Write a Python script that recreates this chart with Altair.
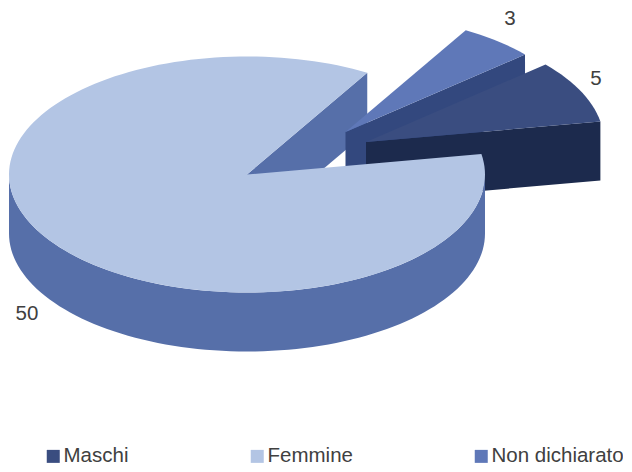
import math
import altair as alt

CATEGORIES = ["Maschi", "Femmine", "Non dichiarato"]
VALUES = [5, 50, 3]
TOP_COLORS = ["#3A4D80", "#B3C5E4", "#5F78B8"]
SIDE_COLORS = ["#1C2A4D", "#566FA9", "#33487E"]

# pie geometry (page pixels minus the 8px margin)
OX, OY = -8, -8
RX, RY, DEPTH = 238, 118, 59
START = 10.0
CENTERS = {"Maschi": (366, 142), "Femmine": (247, 174.5), "Non dichiarato": (345.5, 132)}
LABEL_POS = {"Maschi": (596, 79), "Femmine": (27, 314), "Non dichiarato": (510, 19)}

FONT = 20.5

total = sum(VALUES)
m_sweep, f_sweep, nd_sweep = [v / total * 360 for v in VALUES]
angles = {
    "Maschi": (START, START + m_sweep),
    "Non dichiarato": (START + m_sweep, START + m_sweep + nd_sweep),
    "Femmine": (START + m_sweep + nd_sweep, START + m_sweep + nd_sweep + f_sweep),
}


def pt(cat, t, dy=0):
    cx, cy = CENTERS[cat]
    r = math.radians(t)
    return [cx + RX * math.cos(r) + OX, cy - RY * math.sin(r) + dy + OY]


def apex(cat, dy=0):
    cx, cy = CENTERS[cat]
    return [cx + OX, cy + dy + OY]


def arc(cat, t0, t1, dy=0):
    n = max(2, int(abs(t1 - t0) / 2))
    return [pt(cat, t0 + (t1 - t0) * i / n, dy) for i in range(n + 1)]


def feature(name, ring):
    ring = ring + [ring[0]]
    return {"type": "Feature", "properties": {"name": name},
            "geometry": {"type": "Polygon", "coordinates": [ring]}}


def top(cat):
    t0, t1 = angles[cat]
    return feature(cat, [apex(cat)] + arc(cat, t0, t1))


def cut(cat, t):
    return feature(cat + " lato", [apex(cat), pt(cat, t), pt(cat, t, DEPTH), apex(cat, DEPTH)])


f0, f1 = angles["Femmine"]
features = [
    cut("Femmine", f0),
    cut("Non dichiarato", angles["Non dichiarato"][0]),
    top("Non dichiarato"),
    cut("Maschi", angles["Maschi"][0]),
    top("Maschi"),
    feature("Femmine lato", arc("Femmine", 180, 360) + arc("Femmine", 360, 180, DEPTH)),
    top("Femmine"),
]

domain = CATEGORIES + [c + " lato" for c in CATEGORIES]
colors = TOP_COLORS + SIDE_COLORS
projection = dict(type="identity", scale=1, translate=[0, 0])

shapes = (
    alt.Chart(alt.Data(values=features))
    .mark_geoshape(stroke=None, strokeWidth=0)
    .encode(
        fill=alt.Fill(
            "properties.name:N",
            scale=alt.Scale(domain=domain, range=colors),
            legend=alt.Legend(
                values=CATEGORIES,
                title=None,
                orient="none",
                legendX=35,
                legendY=438,
                direction="horizontal",
                columns=3,
                columnPadding=118,
                symbolType="square",
                symbolSize=169,
                symbolStrokeWidth=0,
                symbolOffset=0,
                labelFont="Liberation Sans",
                labelFontSize=FONT,
                labelColor="#404040",
                labelOffset=0,
            ),
        )
    )
    .project(**projection)
)

label_rows = [
    {"name": c, "value": str(v), "lon": LABEL_POS[c][0] + OX, "lat": LABEL_POS[c][1] + OY}
    for c, v in zip(CATEGORIES, VALUES)
]
labels = (
    alt.Chart(alt.Data(values=label_rows))
    .mark_text(font="Liberation Sans", fontSize=FONT, color="#404040", align="center", baseline="middle")
    .encode(longitude="lon:Q", latitude="lat:Q", text="value:N")
    .project(**projection)
)

chart = (
    alt.layer(shapes, labels)
    .properties(width=615, height=461, padding=0, autosize=alt.AutoSizeParams(type="none"))
    .configure_view(stroke=None)
)
chart.save("out.html", embed_options={"renderer": "svg", "actions": False})
